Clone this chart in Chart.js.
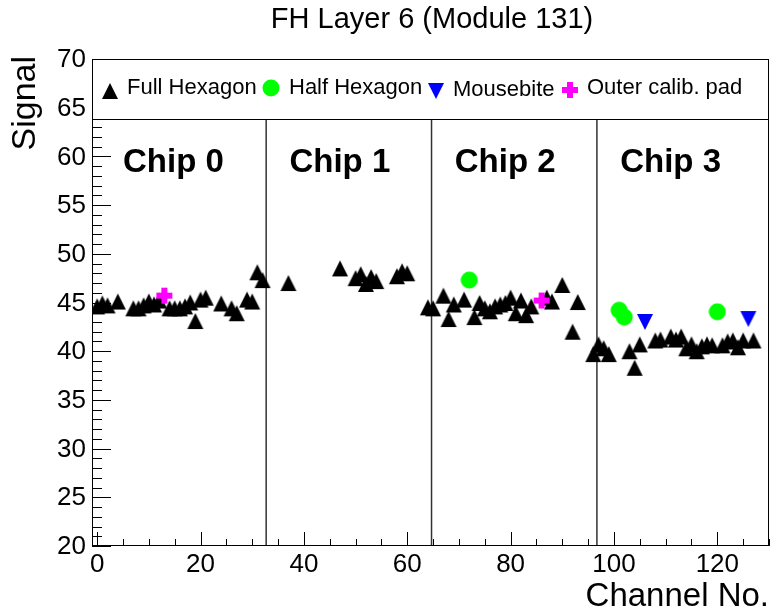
<!DOCTYPE html>
<html><head><meta charset="utf-8">
<script src="https://cdn.jsdelivr.net/npm/chart.js@4/dist/chart.umd.min.js"></script>
<style>html,body{margin:0;padding:0;background:#fff}#wrap{width:774px;height:613px;position:relative}canvas{display:block}</style>
</head><body><div id="wrap"><canvas id="c" width="774" height="613" style="width:774px;height:613px"></canvas></div>
<script>
// ---- data ----
const fullHexChannels = [0,1,2,4,7,8,9,10,11,12,14,15,16,17,18,19,20,21,24,26,27,29,30,31,32,
  37,47,50,51,52,53,54,58,59,60,
  64,65,67,68,69,71,73,74,75,76,77,78,79,80,81,82,83,84,87,88,90,92,93,
  96,97,98,99,103,104,105,108,109,111,112,113,114,115,116,117,118,119,121,122,123,124,125,127];
const fullHexSignal = [44.6,44.9,44.7,45.1,44.4,44.4,44.7,45.1,44.8,45.2,44.4,44.4,44.4,44.6,45.0,43.1,45.3,45.5,44.9,44.4,43.9,45.3,45.1,48.1,47.3,
  47.0,48.5,47.5,47.9,46.9,47.6,47.2,47.7,48.2,48.0,
  44.5,44.4,45.7,43.3,44.8,45.3,43.5,44.95,44.4,44.1,44.6,44.8,44.95,45.5,43.9,45.2,43.7,44.6,45.5,45.1,46.8,42.0,45.05,
  39.7,40.7,40.3,39.7,40.0,38.3,40.7,41.1,41.2,41.5,41.2,41.5,40.3,40.7,40.0,40.5,40.7,40.6,40.6,41.0,41.1,40.4,41.1,41.1];
const halfHexChannels = [72,101,102,120];
const halfHexSignal = [47.3,44.2,43.5,44.05];
const mousebiteChannels = [106,126];
const mousebiteSignal = [43.0,43.3];
const calibChannels = [13,86];
const calibSignal = [45.7,45.2];
const chipBoundaries = [32.7,64.7,96.7];
const chipNames = ['Chip 0','Chip 1','Chip 2','Chip 3'];
const xTickLabels = [0,20,40,60,80,100,120];
const yTickLabels = [20,25,30,35,40,45,50,55,60,65,70];
const seriesNames = ['Full Hexagon','Half Hexagon','Mousebite','Outer calib. pad'];
const titleText = 'FH Layer 6 (Module 131)';
const xTitle = 'Channel No.';
const yTitle = 'Signal';

const X_MIN=-1, X_MAX=130, Y_MIN=20, Y_MAX=70;
const FONT = '"Liberation Sans", Arial, Helvetica, sans-serif';

// ---- ROOT-like marker images ----
function mk(w,h,draw){const c=document.createElement('canvas');c.width=w;c.height=h;const g=c.getContext('2d');draw(g);return c;}
const triUp = mk(18,18,g=>{g.fillStyle='#000';g.beginPath();g.moveTo(1,17);g.lineTo(17,17);g.lineTo(9,1);g.closePath();g.fill();});
const triDown = mk(18,18,g=>{g.fillStyle='#0000ff';g.beginPath();g.moveTo(1,1);g.lineTo(17,1);g.lineTo(9,17);g.closePath();g.fill();});
const circ = mk(18,18,g=>{g.fillStyle='#00ff00';g.beginPath();g.arc(9,9,8.5,0,Math.PI*2);g.fill();});
const cross = mk(18,18,g=>{g.fillStyle='#ff00ff';g.fillRect(6,1,6,16);g.fillRect(1,6,16,6);});
const markers=[triUp,circ,triDown,cross];

function pts(xs,ys){return xs.map((v,i)=>({x:v,y:ys[i]}));}

const rootPlugin = {
  id:'rootStyle',
  beforeDatasetsDraw(chart){
    const {ctx, chartArea:a, scales:{x,y}} = chart;
    ctx.save();
    ctx.strokeStyle='#000'; ctx.lineWidth=1;
    ctx.beginPath();
    for(let v=Y_MIN; v<=Y_MAX; v+=1){
      const py=Math.round(y.getPixelForValue(v))+0.5;
      const len=(v%5===0)?19:10;
      ctx.moveTo(a.left,py); ctx.lineTo(a.left+len,py);
    }
    for(let v=0; v<=X_MAX; v+=5){
      const px=Math.round(x.getPixelForValue(v))+0.5;
      const len=(v%20===0)?14:7;
      ctx.moveTo(px,a.bottom); ctx.lineTo(px,a.bottom-len);
    }
    ctx.stroke();
    // chip boundaries
    ctx.strokeStyle='#333'; ctx.lineWidth=1.5;
    ctx.beginPath();
    chipBoundaries.forEach(b=>{const px=x.getPixelForValue(b);ctx.moveTo(px,a.top+60);ctx.lineTo(px,a.bottom);});
    ctx.stroke();
    // chip labels
    ctx.fillStyle='#000'; ctx.font='bold 33px '+FONT; ctx.textAlign='left'; ctx.textBaseline='alphabetic';
    const starts=[0,...chipBoundaries];
    chipNames.forEach((n,i)=>{ctx.fillText(n, x.getPixelForValue(starts[i]+(i===0?5:4.5)), y.getPixelForValue(58.4));});
    ctx.restore();
  },
  afterDatasetsDraw(chart){
    const {ctx, chartArea:a, scales:{x,y}} = chart;
    ctx.save();
    // frame
    ctx.strokeStyle='#000'; ctx.lineWidth=1;
    ctx.strokeRect(a.left+0.5,a.top+0.5,a.right-a.left-1,a.bottom-a.top-1);
    // legend box
    ctx.fillStyle='#fff';
    ctx.fillRect(a.left+0.5,a.top+0.5,a.right-a.left-1,60);
    ctx.strokeRect(a.left+0.5,a.top+0.5,a.right-a.left-1,60);
    const mx=[110,271,436,570], tx=[127,289,453,587], my=[91,88,91,90], ty=[94,94,96,94];
    ctx.font='22px '+FONT; ctx.fillStyle='#000'; ctx.textAlign='left'; ctx.textBaseline='alphabetic';
    seriesNames.forEach((n,i)=>{
      const m=markers[i]; ctx.drawImage(m, mx[i]-m.width/2, my[i]-m.height/2);
      ctx.fillText(n, tx[i], ty[i]);
    });
    // tick labels
    ctx.font='26px '+FONT;
    ctx.textAlign='right'; ctx.textBaseline='middle';
    yTickLabels.forEach(v=>ctx.fillText(String(v), a.left-6, y.getPixelForValue(v)+1));
    ctx.textAlign='center'; ctx.textBaseline='top';
    xTickLabels.forEach(v=>ctx.fillText(String(v), x.getPixelForValue(v), a.bottom+6));
    // titles
    ctx.font='29px '+FONT; ctx.textAlign='center'; ctx.textBaseline='alphabetic';
    ctx.fillText(titleText, 432, 28);
    ctx.font='33px '+FONT; ctx.textAlign='right';
    ctx.fillText(xTitle, a.right, 606);
    ctx.save(); ctx.translate(35, a.top-3); ctx.rotate(-Math.PI/2);
    ctx.font='34px '+FONT;
    ctx.textAlign='right'; ctx.fillText(yTitle, 0, 0); ctx.restore();
    ctx.restore();
  }
};

new Chart(document.getElementById('c'), {
  type:'scatter',
  data:{datasets:[
    {label:seriesNames[0], data:pts(fullHexChannels,fullHexSignal), pointStyle:triUp, order:4},
    {label:seriesNames[1], data:pts(halfHexChannels,halfHexSignal), pointStyle:circ, order:3},
    {label:seriesNames[2], data:pts(mousebiteChannels,mousebiteSignal), pointStyle:triDown, order:2},
    {label:seriesNames[3], data:pts(calibChannels,calibSignal), pointStyle:cross, order:1}
  ]},
  options:{
    responsive:false, animation:false, devicePixelRatio:1,
    layout:{padding:{left:92,top:59,right:3,bottom:67}},
    plugins:{legend:{display:false}, tooltip:{enabled:false}, title:{display:false}},
    scales:{
      x:{type:'linear', min:X_MIN, max:X_MAX, display:false},
      y:{type:'linear', min:Y_MIN, max:Y_MAX, display:false}
    }
  },
  plugins:[rootPlugin]
});
</script>
</body></html>
